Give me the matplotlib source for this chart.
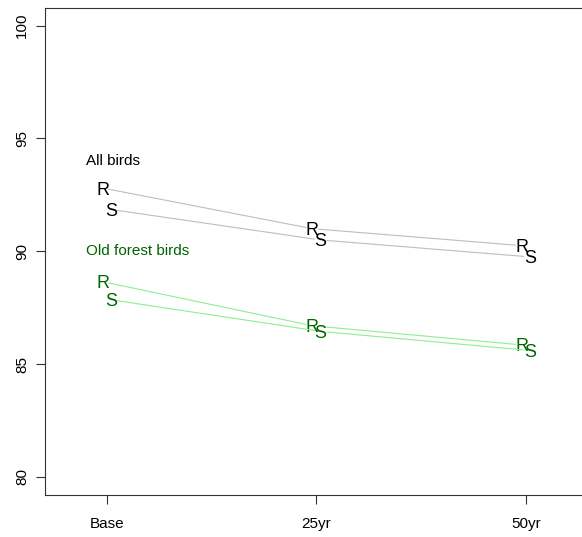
import matplotlib
matplotlib.use("Agg")
import matplotlib.pyplot as plt

plt.rcParams['font.family'] = ['Liberation Sans', 'DejaVu Sans']

# Time steps and percentages per group / scenario
periods = ["Base", "25yr", "50yr"]
steps = [1, 2, 3]
all_R = [92.8, 91.0, 90.25]
all_S = [91.85, 90.5, 89.75]
old_R = [88.65, 86.7, 85.85]
old_S = [87.85, 86.45, 85.6]
yticks = [80, 85, 90, 95, 100]

fig = plt.figure(figsize=(5.82, 5.37), dpi=100)
ax = fig.add_axes([0.0773, 0.0782, 0.933, 0.9078])


def draw_series(xs, ys, letter, line_col, text_col):
    # lines with small gaps around the letters, like R's type = "b"
    for i in range(len(xs) - 1):
        ax.annotate("", xy=(xs[i + 1], ys[i + 1]), xytext=(xs[i], ys[i]),
                    arrowprops=dict(arrowstyle="-", color=line_col, lw=0.8,
                                    shrinkA=4.5, shrinkB=4.5))
    for x, y in zip(xs, ys):
        ax.text(x, y, letter, ha="center", va="center_baseline",
                fontsize=13, color=text_col)


xr = [s - 0.02 for s in steps]
xs = [s + 0.02 for s in steps]

draw_series(xr, all_R, "R", "#bebebe", "black")
draw_series(xs, all_S, "S", "#bebebe", "black")
draw_series(xr, old_R, "R", "#90ee90", "darkgreen")
draw_series(xs, old_S, "S", "#90ee90", "darkgreen")

ax.text(0.9, 94, "All birds", ha="left", va="center", fontsize=11, color="black")
ax.text(0.9, 90, "Old forest birds", ha="left", va="center", fontsize=11, color="darkgreen")

ax.set_xlim(0.704, 3.296)
ax.set_ylim(79.2, 100.8)
ax.set_xticks(steps)
ax.set_xticklabels(periods)
ax.set_yticks(yticks)
ax.set_yticklabels([str(v) for v in yticks], rotation=90, va="center")
ax.tick_params(axis="both", labelsize=11, length=6.5, width=0.8, color="#333333")
ax.tick_params(axis="x", pad=9)
ax.tick_params(axis="y", pad=5)

for side in ["left", "bottom", "top"]:
    ax.spines[side].set_color("#333333")
    ax.spines[side].set_linewidth(0.8)
ax.spines["right"].set_visible(False)

fig.savefig("out.png", dpi=100)
